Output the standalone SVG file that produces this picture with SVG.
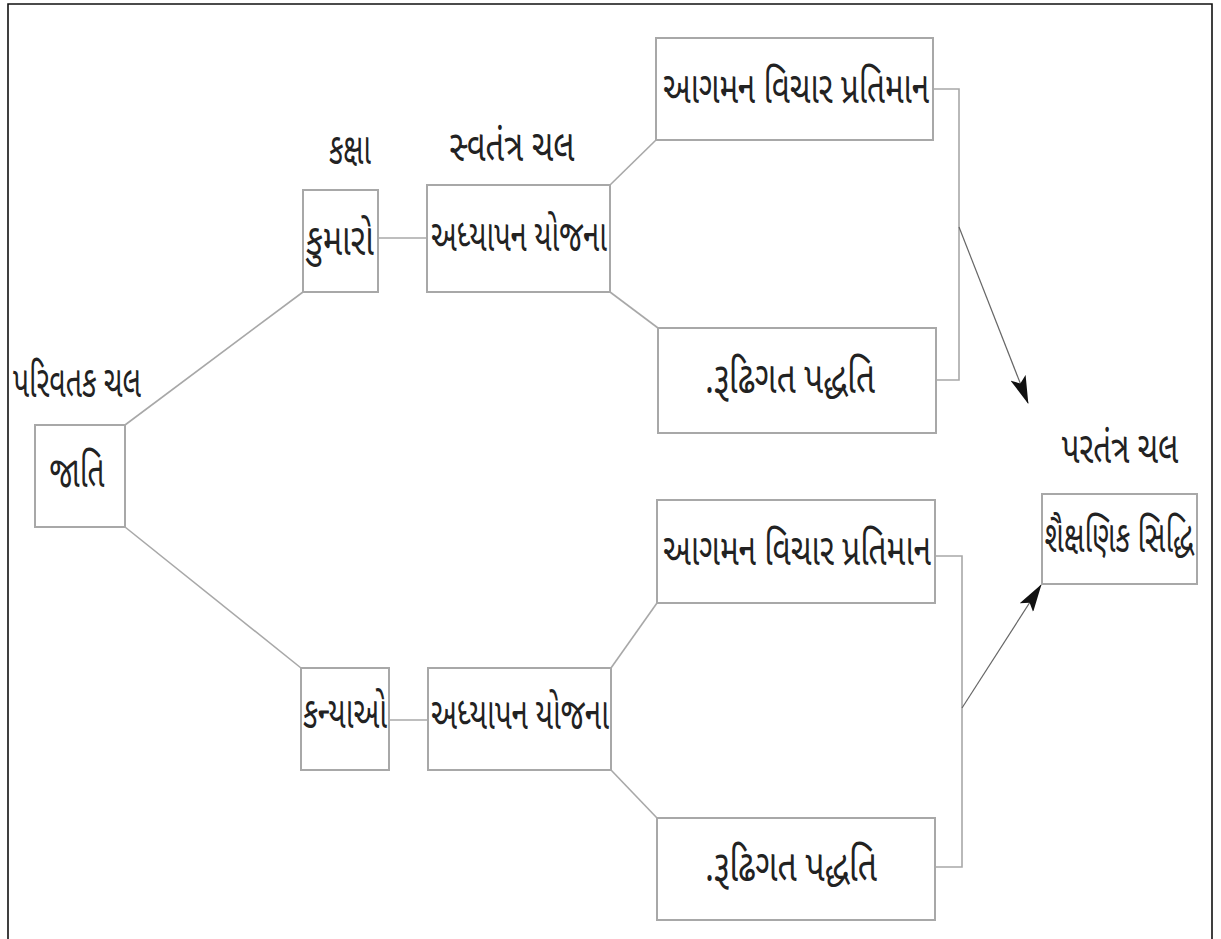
<svg xmlns="http://www.w3.org/2000/svg" width="1221" height="939" viewBox="0 0 1221 939">
<style>
.box{fill:#fff;stroke:#a8a8a8;stroke-width:2}
.t{font-family:"Noto Sans Gujarati","Lohit Gujarati","Noto Sans",sans-serif;font-size:44px;fill:#222;text-anchor:middle;dominant-baseline:central}
.ln{fill:none;stroke:#a8a8a8;stroke-width:1.6}
.ar{fill:none;stroke:#666;stroke-width:1.2}
</style>
<defs>
<marker id="ah" markerWidth="28" markerHeight="16" refX="27" refY="8" orient="auto" markerUnits="userSpaceOnUse">
<path d="M0,0 L28,8 L0,16 L6,8 Z" fill="#111"/>
</marker>
</defs>
<rect width="1221" height="939" fill="#fff"/>
<path d="M8,945 V4 H1212 V945" fill="none" stroke="#111" stroke-width="1.6"/>
<g id="connectors">
<line class="ln" x1="125" y1="425" x2="303" y2="292"/>
<line class="ln" x1="125" y1="527" x2="301" y2="668"/>
<line class="ln" x1="378" y1="238" x2="427" y2="238"/>
<line class="ln" x1="389" y1="720" x2="428" y2="720"/>
<line class="ln" x1="610" y1="185" x2="656" y2="140"/>
<line class="ln" x1="610" y1="292" x2="658" y2="328"/>
<line class="ln" x1="611" y1="668" x2="657" y2="603"/>
<line class="ln" x1="611" y1="770" x2="657" y2="818"/>
<path class="ln" d="M933,89 H959 V380 H936"/>
<path class="ln" d="M935,556 H962 V867 H935"/>
<line class="ar" x1="959" y1="227" x2="1028" y2="403" marker-end="url(#ah)"/>
<line class="ar" x1="962" y1="708" x2="1041" y2="585" marker-end="url(#ah)"/>
</g>
<g id="label-parivartak"><text class="t" x="77" y="386" textLength="128" lengthAdjust="spacingAndGlyphs">પરિવતક ચલ</text></g>
<g id="node-jati"><rect class="box" x="35" y="425" width="90" height="102"/><text class="t" x="77" y="476" textLength="55" lengthAdjust="spacingAndGlyphs">જાતિ</text></g>
<g id="label-kaksha"><text class="t" x="350" y="153" textLength="42" lengthAdjust="spacingAndGlyphs">કક્ષા</text></g>
<g id="node-kumaro"><rect class="box" x="303" y="190" width="75" height="102"/><text class="t" x="340" y="244" textLength="68" lengthAdjust="spacingAndGlyphs">કુમારો</text></g>
<g id="label-svatantra"><text class="t" x="512" y="150" textLength="125" lengthAdjust="spacingAndGlyphs">સ્વતંત્ર ચલ</text></g>
<g id="node-adhyapan1"><rect class="box" x="427" y="185" width="183" height="107"/><text class="t" x="519" y="240" textLength="176" lengthAdjust="spacingAndGlyphs">અધ્યાપન યોજના</text></g>
<g id="node-aagaman1"><rect class="box" x="656" y="38" width="277" height="102"/><text class="t" x="796" y="92" textLength="266" lengthAdjust="spacingAndGlyphs">આગમન વિચાર પ્રતિમાન</text></g>
<g id="node-rudhigat1"><rect class="box" x="658" y="328" width="278" height="105"/><text class="t" x="790" y="382" textLength="170" lengthAdjust="spacingAndGlyphs">.રૂઢિગત પદ્ધતિ</text></g>
<g id="node-kanyao"><rect class="box" x="301" y="668" width="88" height="102"/><text class="t" x="345" y="717" textLength="84" lengthAdjust="spacingAndGlyphs">કન્યાઓ</text></g>
<g id="node-adhyapan2"><rect class="box" x="428" y="668" width="183" height="102"/><text class="t" x="520" y="718" textLength="178" lengthAdjust="spacingAndGlyphs">અધ્યાપન યોજના</text></g>
<g id="node-aagaman2"><rect class="box" x="657" y="500" width="278" height="103"/><text class="t" x="797" y="554" textLength="268" lengthAdjust="spacingAndGlyphs">આગમન વિચાર પ્રતિમાન</text></g>
<g id="node-rudhigat2"><rect class="box" x="657" y="818" width="278" height="102"/><text class="t" x="791" y="870" textLength="172" lengthAdjust="spacingAndGlyphs">.રૂઢિગત પદ્ધતિ</text></g>
<g id="label-paratantra"><text class="t" transform="translate(1120,453) scale(0.71,1)" x="0" y="0">પરતંત્ર ચલ</text></g>
<g id="node-siddhi"><rect class="box" x="1042" y="494" width="155" height="90"/><text class="t" transform="translate(1119,541) scale(0.65,1)" x="0" y="0">શૈક્ષણિક સિદ્ધિ</text></g>
</svg>
